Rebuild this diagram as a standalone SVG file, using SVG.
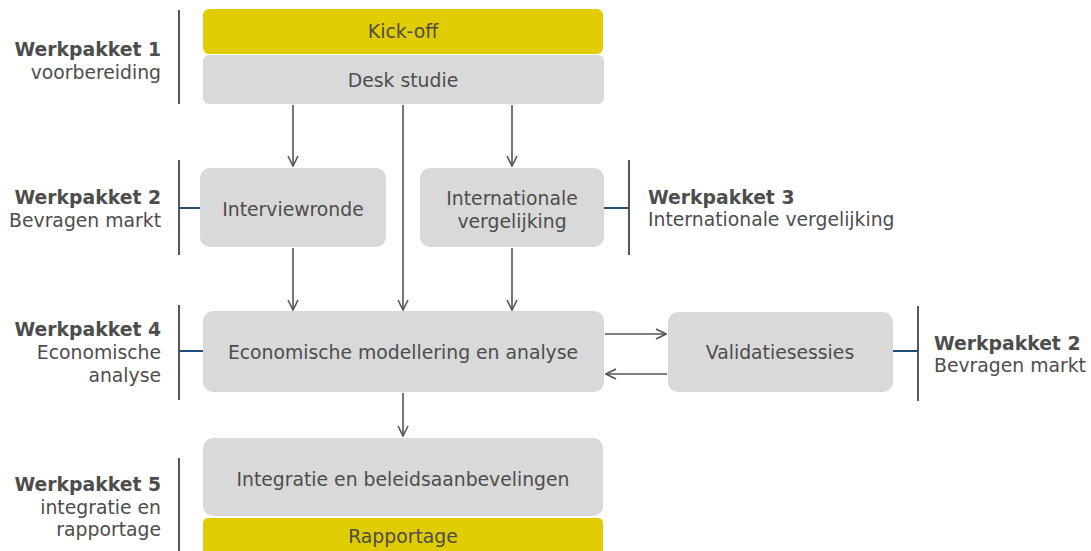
<svg xmlns="http://www.w3.org/2000/svg" width="1091" height="551" viewBox="0 0 1091 551">
<defs>
<style>
.t{font-family:"DejaVu Sans","Liberation Sans",sans-serif;font-size:18.8px;fill:#4d4d4d}
.b{font-weight:bold}
.n{fill:#d9d9d9}
.y{fill:#e0cc00}
.v{stroke:#555;stroke-width:2;fill:none}
.bl{stroke:#1f4e79;stroke-width:2;fill:none}
.c{stroke:#555;stroke-width:1.6;fill:none}
</style>
<marker id="ah" viewBox="0 0 12 12" refX="11" refY="6" markerWidth="12" markerHeight="12" markerUnits="userSpaceOnUse" orient="auto">
<path d="M1,1 L11,6 L1,11" fill="none" stroke="#555" stroke-width="1.6"/>
</marker>
</defs>
<rect width="1091" height="551" fill="#fff"/>
<g id="labels">
<line class="v" x1="179" y1="10" x2="179" y2="104"/>
<line class="v" x1="179" y1="160" x2="179" y2="255"/>
<line class="v" x1="629" y1="160" x2="629" y2="255"/>
<line class="v" x1="179" y1="305" x2="179" y2="400"/>
<line class="v" x1="918" y1="306" x2="918" y2="401"/>
<line class="v" x1="179" y1="458" x2="179" y2="551"/>
<text class="t" text-anchor="end"><tspan class="b" x="161" y="56">Werkpakket 1</tspan><tspan x="161" y="79">voorbereiding</tspan></text>
<text class="t" text-anchor="end"><tspan class="b" x="161" y="204">Werkpakket 2</tspan><tspan x="161" y="227">Bevragen markt</tspan></text>
<text class="t"><tspan class="b" x="648" y="204">Werkpakket 3</tspan><tspan x="648" y="226">Internationale vergelijking</tspan></text>
<text class="t" text-anchor="end"><tspan class="b" x="161" y="336">Werkpakket 4</tspan><tspan x="161" y="359">Economische</tspan><tspan x="161" y="382">analyse</tspan></text>
<text class="t"><tspan class="b" x="934" y="350">Werkpakket 2</tspan><tspan x="934" y="372">Bevragen markt</tspan></text>
<text class="t" text-anchor="end"><tspan class="b" x="161" y="491">Werkpakket 5</tspan><tspan x="161" y="514">integratie en</tspan><tspan x="161" y="536">rapportage</tspan></text>
</g>
<g id="connectors">
<line class="bl" x1="179" y1="208" x2="200" y2="208"/>
<line class="bl" x1="604" y1="208" x2="629" y2="208"/>
<line class="bl" x1="179" y1="351" x2="203" y2="351"/>
<line class="bl" x1="893" y1="351" x2="918" y2="351"/>
<line class="c" x1="293" y1="105" x2="293" y2="166" marker-end="url(#ah)"/>
<line class="c" x1="512" y1="105" x2="512" y2="166" marker-end="url(#ah)"/>
<line class="c" x1="403" y1="105" x2="403" y2="310" marker-end="url(#ah)"/>
<line class="c" x1="293" y1="248" x2="293" y2="310" marker-end="url(#ah)"/>
<line class="c" x1="512" y1="248" x2="512" y2="310" marker-end="url(#ah)"/>
<line class="c" x1="403" y1="393" x2="403" y2="436" marker-end="url(#ah)"/>
<line class="c" x1="605" y1="334" x2="666" y2="334" marker-end="url(#ah)"/>
<line class="c" x1="667" y1="374" x2="606" y2="374" marker-end="url(#ah)"/>
</g>
<g id="kickoff"><rect class="y" x="203" y="9" width="400" height="45" rx="6"/><text class="t" x="403" y="38" text-anchor="middle">Kick-off</text></g>
<g id="desk"><rect class="n" x="203" y="55" width="401" height="49" rx="6"/><text class="t" x="403" y="87" text-anchor="middle">Desk studie</text></g>
<g id="interview"><rect class="n" x="200" y="168" width="186" height="79" rx="10"/><text class="t" x="293" y="216" text-anchor="middle">Interviewronde</text></g>
<g id="internationaal"><rect class="n" x="420" y="168" width="184" height="79" rx="10"/><text class="t" x="512" y="205" text-anchor="middle">Internationale</text><text class="t" x="512" y="228" text-anchor="middle">vergelijking</text></g>
<g id="economisch"><rect class="n" x="203" y="311" width="401" height="81" rx="10"/><text class="t" x="403" y="359" text-anchor="middle">Economische modellering en analyse</text></g>
<g id="validatie"><rect class="n" x="668" y="312" width="225" height="80" rx="10"/><text class="t" x="780" y="359" text-anchor="middle">Validatiesessies</text></g>
<g id="integratie"><rect class="n" x="203" y="438" width="400" height="78" rx="10"/><text class="t" x="403" y="486" text-anchor="middle">Integratie en beleidsaanbevelingen</text></g>
<g id="rapportage"><rect class="y" x="203" y="518" width="400" height="40" rx="5"/><text class="t" x="403" y="543" text-anchor="middle">Rapportage</text></g>
</svg>
